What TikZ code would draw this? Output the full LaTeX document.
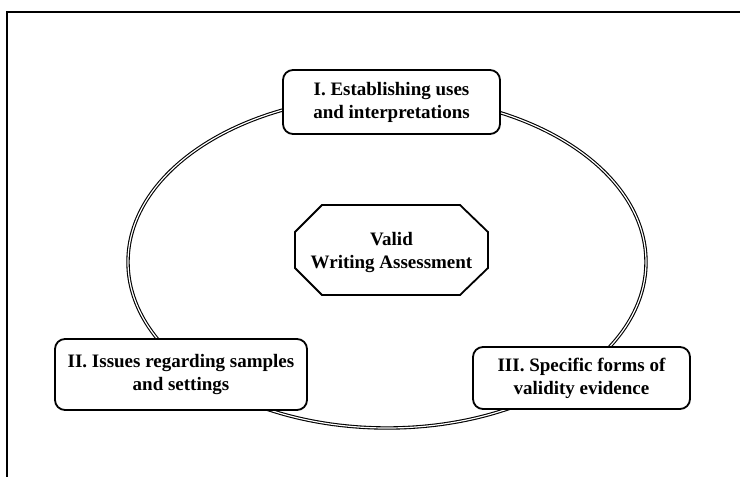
\documentclass[tikz,border=0pt]{standalone}
\usepackage{fontspec}
\setmainfont{Liberation Serif}
\usetikzlibrary{shapes.geometric}
\begin{document}
\begin{tikzpicture}[x=1pt,y=-1pt,
  textstyle/.style={align=center,font=\fontsize{19}{23}\selectfont\bfseries},
  boxstyle/.style={textstyle,draw=black,line width=1.8pt,rounded corners=10pt,fill=white,inner sep=0pt},
  ringstyle/.style={draw=black,line width=1.1pt,double=white,double distance=1.2pt}]
\useasboundingbox (0,0) rectangle (740,477);
\coordinate (f1) at (7,477);
\coordinate (f2) at (7,12);
\coordinate (f3) at (740,12);
\draw[line width=2pt] (f1) -- (f2) -- (f3);
\node[ringstyle,ellipse,minimum width=518pt,minimum height=332pt,inner sep=0pt] (ring) at (387,262) {};
\draw[line width=1.8pt,fill=white] (322,205) -- (460,205) -- (488,232) -- (488,268) -- (460,295) -- (322,295) -- (295,268) -- (295,232) -- cycle;
\node[textstyle] (core) at (391.5,253) {Valid\\Writing Assessment};
\node[boxstyle,minimum width=217pt,minimum height=64pt] (b1) at (391.5,102) {I. Establishing uses\\and interpretations};
\node[boxstyle,minimum width=252pt,minimum height=71pt] (b2) at (181,374.5) {II. Issues regarding samples\\and settings};
\node[boxstyle,minimum width=217pt,minimum height=62pt] (b3) at (581.5,378) {III. Specific forms of\\validity evidence};
\end{tikzpicture}
\end{document}
